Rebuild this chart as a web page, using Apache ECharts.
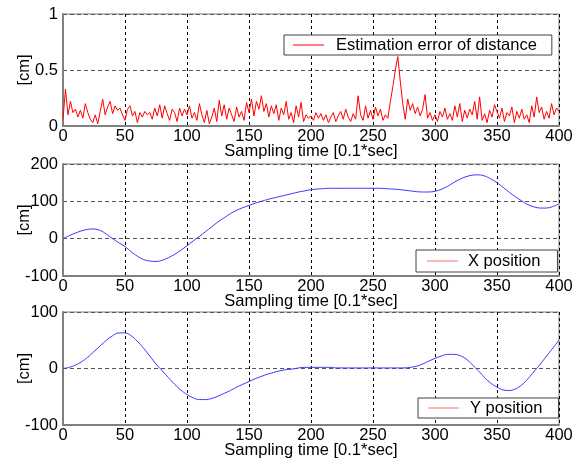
<!DOCTYPE html>
<html>
<head>
<meta charset="utf-8">
<script src="https://cdn.jsdelivr.net/npm/echarts@6/dist/echarts.min.js"></script>
<style>
html,body{margin:0;padding:0;background:#fff;}
#c{width:574px;height:464px;}
</style>
</head>
<body>
<div id="c"></div>
<script>
// ---- data ----
const xTicks = [0, 50, 100, 150, 200, 250, 300, 350, 400];
const errStep = 2; // sampling step of error series
const errorValues = [
0.06,0.33,0.10,0.22,0.12, 0.15,0.08,0.14,0.07,0.20,
0.12,0.06,0.03,0.10,0.02, 0.13,0.24,0.10,0.17,0.22,
0.11,0.18,0.14,0.16,0.10, 0.05,0.15,0.18,0.09,0.13,
0.03,0.12,0.08,0.13,0.10, 0.12,0.06,0.16,0.09,0.19,
0.07,0.18,0.11,0.05,0.15, 0.12,0.04,0.16,0.09,0.15,
0.10,0.18,0.07,0.12,0.05, 0.20,0.10,0.03,0.14,0.02,
0.08,0.16,0.04,0.23,0.09, 0.19,0.06,0.16,0.10,0.04,
0.17,0.08,0.13,0.05,0.21, 0.12,0.24,0.09,0.22,0.15,
0.27,0.13,0.20,0.08,0.18, 0.11,0.19,0.05,0.16,0.10,
0.22,0.06,0.12,0.03,0.18, 0.08,0.21,0.04,0.10,0.07,
0.09,0.05,0.12,0.07,0.11, 0.05,0.10,0.03,0.08,0.12,
0.04,0.09,0.13,0.06,0.15, 0.08,0.04,0.11,0.06,0.27,
0.10,0.05,0.18,0.07,0.14, 0.06,0.17,0.09,0.15,0.05,
0.10,0.07,0.22,0.35,0.50, 0.62,0.40,0.20,0.06,0.24,
0.14,0.20,0.11,0.17,0.09, 0.15,0.28,0.07,0.12,0.05,
0.10,0.04,0.13,0.08,0.16, 0.06,0.11,0.05,0.18,0.08,
0.20,0.04,0.14,0.07,0.15, 0.10,0.22,0.06,0.26,0.05,
0.11,0.03,0.14,0.08,0.19, 0.13,0.07,0.16,0.04,0.12,
0.09,0.17,0.03,0.13,0.07, 0.15,0.06,0.10,0.03,0.18,
0.08,0.26,0.12,0.17,0.06, 0.13,0.07,0.20,0.10,0.16,
0.13
];
const posStep = 5;
const xPosition = [
0,8,15,21,25,26,22,12,0,-11,
-21,-35,-47,-56,-60,-61,-58,-51,-42,-31,
-19,-6,6,19,32,45,56,67,76,83,
89,95,100,105,109,113,117,121,125,128,
131,133,134,135,135,135,135,135,135,135,
135,135,134,133,132,130,128,126,125,125,
127,132,140,150,159,166,170,171,168,160,
150,137,124,112,101,91,85,82,82,86,
93
];
const yPosition = [
0,2,6,12,20,30,40,50,58,63,
63,58,48,36,22,8,-4,-16,-28,-38,
-46,-52,-55,-55,-53,-49,-44,-39,-33,-28,
-23,-18,-14,-10,-7,-4,-2,-1,1,2,
2,2,2,2,1,1,1,1,1,1,
1,1,1,1,1,1,2,4,8,13,
18,22,25,25,23,17,7,-4,-16,-26,
-33,-38,-39,-36,-29,-18,-5,8,22,36,
50
];
const errName = 'Estimation error of distance';
const xName = 'X position';
const yName = 'Y position';
const xAxisTitle = 'Sampling time [0.1*sec]';
const yAxisTitle = '[cm]';

// ---- build ----
const pairs = (arr, step) => arr.map((v, i) => [i * step, v]);
const FONT = 'Liberation Sans, Arial, sans-serif';
const FS = 16.5;
const grids = [
  {left: 63, top: 14, width: 496, height: 112},
  {left: 63, top: 164, width: 496, height: 112},
  {left: 63, top: 312, width: 496, height: 113}
].map(g => Object.assign(g, {show: true, borderColor: '#808080', borderWidth: 1, backgroundColor: '#fff', containLabel: false, outerBoundsMode: 'none'}));

function xAx(i) {
  return {
    type: 'value', gridIndex: i, min: 0, max: 400, interval: 50,
    name: xAxisTitle, nameLocation: 'middle', nameGap: 17, nameMoveOverlap: false,
    nameTextStyle: {fontFamily: FONT, fontSize: FS, color: '#000'},
    axisLine: {show: true, onZero: false, lineStyle: {color: '#808080', width: 2}},
    axisTick: {show: false},
    axisLabel: {fontFamily: FONT, fontSize: FS, color: '#000', margin: 2},
    splitLine: {show: true, lineStyle: {color: '#000', type: [3, 3], width: 1}}
  };
}
function yAx(i, min, max, interval) {
  return {
    type: 'value', gridIndex: i, min: min, max: max, interval: interval,
    name: yAxisTitle, nameLocation: 'middle', nameGap: 30, nameRotate: 90, nameMoveOverlap: false,
    nameTextStyle: {fontFamily: FONT, fontSize: FS, color: '#000'},
    axisLine: {show: true, onZero: false, lineStyle: {color: '#808080', width: 2}},
    axisTick: {show: false},
    axisLabel: {fontFamily: FONT, fontSize: FS, color: '#000', margin: 5},
    splitLine: {show: true, lineStyle: {color: '#555', type: [4, 3], width: 1}}
  };
}
function legend(name, left, top, pad, textPadLeft, color) {
  return {
    show: true,
    data: [name],
    left: left, top: top, orient: 'horizontal',
    backgroundColor: '#fff', borderColor: '#404040', borderWidth: 1,
    padding: pad, itemWidth: 31, itemHeight: 1, icon: 'rect',
    itemStyle: {color: color},
    selectedMode: false, z: 10,
    textStyle: {fontFamily: FONT, fontSize: FS, color: '#000', padding: [0, 0, 0, textPadLeft], lineHeight: 18}
  };
}

const chart = echarts.init(document.getElementById('c'), null, {renderer: 'canvas'});
chart.setOption({
  animation: false,
  backgroundColor: '#fff',
  grid: grids,
  xAxis: [xAx(0), xAx(1), xAx(2)],
  yAxis: [yAx(0, 0, 1, 0.5), yAx(1, -100, 200, 100), yAx(2, -100, 100, 100)],
  legend: [
    legend(errName, 284, 35, [1, 15, 1, 9], 7, '#ff0000'),
    legend(xName, 416, 250, [2, 17, 2, 11], 5, '#ff7070'),
    legend(yName, 418, 398, [1, 16, 1, 10], 6, '#ff7070')
  ],
  series: [
    {name: errName, type: 'line', xAxisIndex: 0, yAxisIndex: 0, data: pairs(errorValues, errStep),
     showSymbol: false, lineStyle: {color: '#ff0000', width: 1}, itemStyle: {color: '#ff0000'}},
    {name: xName, type: 'line', xAxisIndex: 1, yAxisIndex: 1, data: [],
     showSymbol: false, lineStyle: {color: '#ff0000', width: 1}, itemStyle: {color: '#ff0000'}},
    {name: 'x-est', type: 'line', xAxisIndex: 1, yAxisIndex: 1, data: pairs(xPosition, posStep), smooth: 0.4,
     showSymbol: false, lineStyle: {color: '#3838ff', width: 1}},
    {name: yName, type: 'line', xAxisIndex: 2, yAxisIndex: 2, data: [],
     showSymbol: false, lineStyle: {color: '#ff0000', width: 1}, itemStyle: {color: '#ff0000'}},
    {name: 'y-est', type: 'line', xAxisIndex: 2, yAxisIndex: 2, data: pairs(yPosition, posStep), smooth: 0.4,
     showSymbol: false, lineStyle: {color: '#3838ff', width: 1}}
  ]
});
</script>
</body>
</html>
